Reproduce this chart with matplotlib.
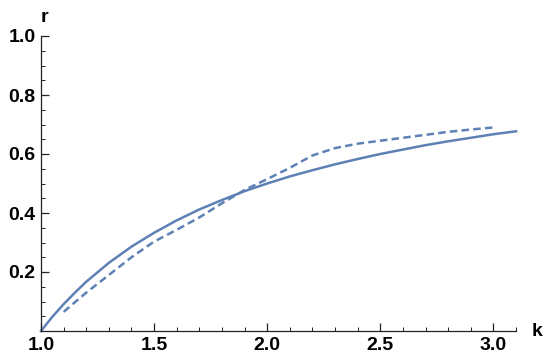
import numpy as np
import matplotlib.pyplot as plt
from matplotlib.ticker import MultipleLocator

# values
k_solid = [1.0, 1.05, 1.1, 1.15, 1.2, 1.3, 1.4, 1.5, 1.6, 1.7, 1.8, 1.9, 2.0,
           2.1, 2.2, 2.3, 2.4, 2.5, 2.6, 2.7, 2.8, 2.9, 3.0, 3.1]
r_solid = [0.0, 0.048, 0.091, 0.130, 0.167, 0.231, 0.286, 0.333, 0.375, 0.412, 0.444, 0.474, 0.5,
           0.524, 0.545, 0.565, 0.583, 0.6, 0.615, 0.63, 0.643, 0.655, 0.667, 0.677]

k_dash = [1.1, 1.2, 1.3, 1.4, 1.5, 1.6, 1.7, 1.8, 1.9, 2.0,
          2.1, 2.2, 2.3, 2.4, 2.5, 2.6, 2.7, 2.8, 2.9, 3.0]
r_dash = [0.065, 0.13, 0.19, 0.25, 0.303, 0.343, 0.385, 0.433, 0.478, 0.515,
          0.553, 0.595, 0.62, 0.635, 0.645, 0.655, 0.665, 0.675, 0.683, 0.69]

xticks = [1.0, 1.5, 2.0, 2.5, 3.0]
yticks = [0.2, 0.4, 0.6, 0.8, 1.0]

col = '#5E81B5'
plt.rcParams['font.family'] = ['Liberation Sans', 'DejaVu Sans']

fig = plt.figure(figsize=(5.5, 3.63), dpi=100)
ax = fig.add_axes([41/550, 32/363, 475/550, 295/363])

ax.plot(k_solid, r_solid, color=col, lw=1.8, clip_on=False)
ax.plot(k_dash, r_dash, color=col, lw=1.8, linestyle=(0, (3.0, 1.7)), clip_on=False)

ax.set_xlim(1.0, 3.1)
ax.set_ylim(0, 1.0)
ax.spines['top'].set_visible(False)
ax.spines['right'].set_visible(False)
for s in ['left', 'bottom']:
    ax.spines[s].set_linewidth(0.9)
    ax.spines[s].set_color('#222222')

ax.set_xticks(xticks)
ax.set_yticks(yticks)
ax.set_xticklabels(['%.1f' % v for v in xticks], fontsize=14, fontweight='bold')
ax.set_yticklabels(['%.1f' % v for v in yticks], fontsize=14, fontweight='bold')
ax.xaxis.set_minor_locator(MultipleLocator(0.1))
ax.yaxis.set_minor_locator(MultipleLocator(0.05))
ax.tick_params(which='major', direction='in', length=5.5, width=0.9, color='#222222', pad=4)
ax.tick_params(which='minor', direction='in', length=3, width=0.7, color='#222222')

ax.text(1.0, 1.035, 'r', fontsize=14, fontweight='bold', ha='left', va='bottom',
        transform=ax.transData, clip_on=False)
ax.text(3.17, 0.0, 'k', fontsize=14, fontweight='bold', ha='left', va='center',
        transform=ax.transData, clip_on=False)

plt.savefig('out.png', dpi=100)
